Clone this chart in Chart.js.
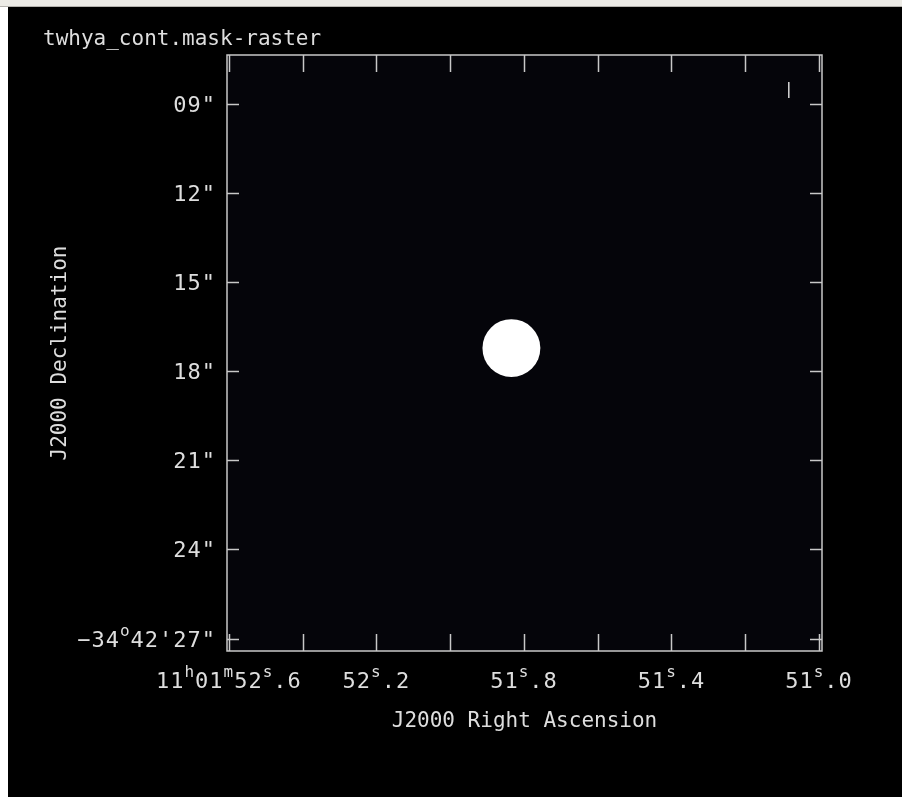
<!DOCTYPE html>
<html>
<head>
<meta charset="utf-8">
<title>twhya_cont.mask-raster</title>
<script src="https://cdn.jsdelivr.net/npm/chart.js@4.4.1/dist/chart.umd.min.js"></script>
<style>
  html, body { margin: 0; padding: 0; background: #ffffff; overflow: hidden; }
  #bar { position: absolute; left: 0; top: 0; width: 902px; height: 6px; background: #ecebe6; border-bottom: 1px solid #b4b2ad; }
  #wrap { position: absolute; left: 8px; top: 7px; width: 894px; height: 790px; background: #000; }
  canvas { display: block; }
</style>
</head>
<body>
<div id="bar"></div>
<div id="wrap"><canvas id="maskChart" width="894" height="790"></canvas></div>
<script>
// Right ascension (seconds of 11h01m) and declination (arcsec of -34°42')
const raRange = [50.992, 52.605];
const decRange = [7.35, 27.42];

const raTicks = [52.6, 52.4, 52.2, 52.0, 51.8, 51.6, 51.4, 51.2, 51.0];
const raTickLabels = ['11^h01^m52^s.6', '', '52^s.2', '', '51^s.8', '', '51^s.4', '', '51^s.0'];

const decTicks = [9, 12, 15, 18, 21, 24, 27];
const decTickLabels = ['09"', '12"', '15"', '18"', '21"', '24"', '\u221234^o42\'27"'];

// mask region: disc centre and radius (arcsec)
const maskCenter = [{ x: 51.834, y: 17.22 }];
const maskRadius = 0.975;
// short mask stroke near the upper-right corner
const maskStroke = [{ x: 51.082, y: 8.26 }, { x: 51.082, y: 8.80 }];

const plotTitle = 'twhya_cont.mask-raster';
const xTitle = 'J2000 Right Ascension';
const yTitle = 'J2000 Declination';

const FONT = '"DejaVu Sans Mono", "Liberation Mono", monospace';
const INK = '#dedede';
const AXIS = '#c8c8c8';

// text with ^x superscripts (h, m, s, degree)
function splitRich(text) {
    const parts = [];
    let buf = '';
    for (let i = 0; i < text.length; i++) {
        if (text[i] === '^' && i + 1 < text.length) {
            if (buf) parts.push({ t: buf, sup: false });
            buf = '';
            parts.push({ t: text[i + 1], sup: true });
            i++;
        } else {
            buf += text[i];
        }
    }
    if (buf) parts.push({ t: buf, sup: false });
    return parts;
}

function drawRich(ctx, text, x, y, align) {
    const base = '22px ' + FONT;
    const small = '16px ' + FONT;
    const parts = splitRich(text);
    ctx.letterSpacing = '1px';
    let width = 0;
    parts.forEach(p => {
        ctx.font = p.sup ? small : base;
        p.w = ctx.measureText(p.t).width;
        width += p.w;
    });
    let cx = x;
    if (align === 'center') cx = x - width / 2;
    if (align === 'right') cx = x - width;
    ctx.textAlign = 'left';
    ctx.textBaseline = 'alphabetic';
    parts.forEach(p => {
        ctx.font = p.sup ? small : base;
        ctx.fillText(p.t, cx, p.sup ? y - 11 : y);
        cx += p.w;
    });
    ctx.letterSpacing = '0px';
}

const skyFrame = {
    id: 'skyFrame',
    beforeDraw(chart) {
        const { ctx, chartArea: a } = chart;
        ctx.save();
        ctx.fillStyle = '#000000';
        ctx.fillRect(0, 0, chart.width, chart.height);
        ctx.fillStyle = '#05050a';
        ctx.fillRect(a.left, a.top, a.right - a.left, a.bottom - a.top);
        ctx.restore();
    },
    afterDatasetsDraw(chart) {
        const { ctx, chartArea: a, scales } = chart;
        const xs = scales.x, ys = scales.y;
        ctx.save();
        ctx.strokeStyle = AXIS;
        ctx.lineWidth = 1.5;
        ctx.strokeRect(a.left, a.top, a.right - a.left, a.bottom - a.top);

        // inward ticks on all four sides
        ctx.beginPath();
        raTicks.forEach(v => {
            const px = Math.round(xs.getPixelForValue(v)) + 0.5;
            ctx.moveTo(px, a.bottom); ctx.lineTo(px, a.bottom - 17);
            ctx.moveTo(px, a.top); ctx.lineTo(px, a.top + 17);
        });
        decTicks.forEach(v => {
            const py = Math.round(ys.getPixelForValue(v)) + 0.5;
            ctx.moveTo(a.left, py); ctx.lineTo(a.left + 12, py);
            ctx.moveTo(a.right, py); ctx.lineTo(a.right - 12, py);
        });
        ctx.stroke();

        ctx.fillStyle = INK;
        raTicks.forEach((v, i) => {
            if (raTickLabels[i]) drawRich(ctx, raTickLabels[i], xs.getPixelForValue(v), a.bottom + 37, 'center');
        });
        decTicks.forEach((v, i) => {
            drawRich(ctx, decTickLabels[i], a.left - 11, ys.getPixelForValue(v) + 8, 'right');
        });

        // titles
        ctx.font = '21px ' + FONT;
        ctx.textAlign = 'left';
        ctx.textBaseline = 'alphabetic';
        ctx.fillText(plotTitle, 35, 38);
        ctx.textAlign = 'center';
        ctx.fillText(xTitle, (a.left + a.right) / 2, a.bottom + 76);
        ctx.translate(58, (a.top + a.bottom) / 2);
        ctx.rotate(-Math.PI / 2);
        ctx.fillText(yTitle, 0, 0);
        ctx.restore();
    }
};

function createMaskChart() {
    const ctx = document.getElementById('maskChart');
    new Chart(ctx, {
        type: 'scatter',
        data: {
            datasets: [
                {
                    label: 'mask',
                    data: maskCenter,
                    backgroundColor: '#ffffff',
                    borderWidth: 0,
                    pointStyle: 'circle',
                    pointRadius: (c) => {
                        const y = c.chart.scales.y;
                        const p = maskCenter[c.dataIndex];
                        return Math.abs(y.getPixelForValue(p.y + maskRadius) - y.getPixelForValue(p.y));
                    }
                },
                {
                    label: 'stroke',
                    data: maskStroke,
                    showLine: true,
                    borderColor: '#d8d8d8',
                    borderWidth: 1.5,
                    pointRadius: 0
                }
            ]
        },
        options: {
            responsive: false,
            animation: false,
            events: [],
            layout: { padding: { left: 219, top: 48, right: 80, bottom: 146 } },
            scales: {
                x: { type: 'linear', display: false, reverse: true, min: raRange[0], max: raRange[1] },
                y: { type: 'linear', display: false, reverse: true, min: decRange[0], max: decRange[1] }
            },
            plugins: {
                legend: { display: false },
                tooltip: { enabled: false },
                title: { display: false }
            }
        },
        plugins: [skyFrame]
    });
}

document.addEventListener('DOMContentLoaded', createMaskChart);
</script>
</body>
</html>
